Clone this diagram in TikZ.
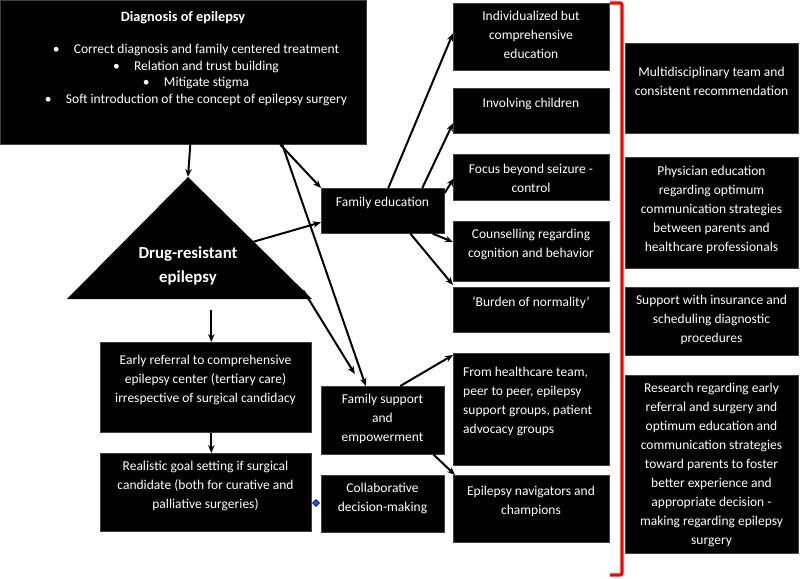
\documentclass[tikz,border=0pt]{standalone}
\usepackage{fontspec}
\setmainfont{Carlito}
\usetikzlibrary{calc,arrows.meta,shapes.geometric}
\tikzset{
  box/.style={fill=black, draw=black!75, line width=0.6pt, inner sep=0pt, anchor=north west},
  txt/.style={text=white, align=center, inner sep=0pt, font=\fontsize{13.5}{19}\selectfont},
  ttl/.style={text=white, align=center, inner sep=0pt, font=\fontsize{14.3}{24}\selectfont\bfseries},
  arr/.style={-{Stealth[length=8pt,width=6.5pt]}, line width=2pt},
  bracket/.style={draw=red, line width=3.2pt, rounded corners=2pt},
}
\newcommand{\mybox}[5]{\node[box, minimum width={(#4-#2)*1pt}, minimum height={(#5-#3)*1pt}] (#1) at (#2,#3) {};}
\begin{document}
\begin{tikzpicture}[x=1pt,y=-1pt]
\useasboundingbox[fill=white] (0,0) rectangle (800,578);
% boxes
\mybox{diag}{0}{0}{366}{144}
\mybox{famedu}{321}{188}{444}{233}
\mybox{ind}{453}{3}{609}{70}
\mybox{inv}{453}{88}{609}{133}
\mybox{foc}{453}{154}{609}{200}
\mybox{cou}{453}{221}{609}{281}
\mybox{bur}{453}{287}{609}{332}
\mybox{fro}{453}{353}{609}{465}
\mybox{nav}{453}{475}{609}{542}
\mybox{famsup}{321}{386}{444}{454}
\mybox{col}{321}{475}{444}{532}
\mybox{early}{100}{342}{311}{432}
\mybox{real}{100}{453}{311}{531}
\mybox{mul}{625}{43}{798}{133}
\mybox{phy}{625}{157}{798}{268}
\mybox{ins}{625}{287}{798}{355}
\mybox{res}{625}{375}{798}{553}
% triangle
\coordinate (apex) at (188,177);
\coordinate (tl) at (67,299);
\coordinate (tr) at (312,299);
\fill[black] (apex) -- (tr) -- (tl) -- cycle;
\node[ttl, font=\fontsize{16.8}{24}\selectfont\bfseries] (tri-t) at (188,266) {Drug-resistant\\epilepsy};
% texts
\node[ttl] (diag-t) at (183,18) {Diagnosis of epilepsy};
\node[txt, font=\fontsize{13.5}{16.5}\selectfont] (diag-b) at (196,75) {%
\makebox[21pt][l]{\textbullet}Correct diagnosis and family centered treatment\\
\makebox[21pt][l]{\textbullet}Relation and trust building\\
\makebox[21pt][l]{\textbullet}Mitigate stigma\\
\makebox[21pt][l]{\textbullet}Soft introduction of the concept of epilepsy surgery};
\node[txt] (ind-t) at (531,35) {Individualized but\\comprehensive\\education};
\node[txt] (inv-t) at (531,104) {Involving children};
\node[txt] (foc-t) at (531,178.5) {Focus beyond seizure -\\control};
\node[txt] (cou-t) at (531,244.5) {Counselling regarding\\cognition and behavior};
\node[txt] (bur-t) at (531,303) {‘Burden of normality’};
\node[txt, align=left, anchor=west] (fro-t) at (463,401.5) {From healthcare team,\\peer to peer, epilepsy\\support groups, patient\\advocacy groups};
\node[txt] (nav-t) at (531,501.5) {Epilepsy navigators and\\champions};
\node[txt] (famedu-t) at (382.5,203) {Family education};
\node[txt] (famsup-t) at (382.5,419) {Family support\\and\\empowerment};
\node[txt] (col-t) at (382.5,498.5) {Collaborative\\decision-making};
\node[txt] (early-t) at (205.5,380) {Early referral to comprehensive\\epilepsy center (tertiary care)\\irrespective of surgical candidacy};
\node[txt] (real-t) at (205.5,486) {Realistic goal setting if surgical\\candidate (both for curative and\\palliative surgeries)};
\node[txt] (mul-t) at (711.5,81.5) {Multidisciplinary team and\\consistent recommendation};
\node[txt] (phy-t) at (711.5,210) {Physician education\\regarding optimum\\communication strategies\\between parents and\\healthcare professionals};
\node[txt] (ins-t) at (711.5,320) {Support with insurance and\\scheduling diagnostic\\procedures};
\node[txt] (res-t) at (711.5,465) {Research regarding early\\referral and surgery and\\optimum education and\\communication strategies\\toward parents to foster\\better experience and\\appropriate decision -\\making regarding epilepsy\\surgery};
% connector coordinates
\coordinate (trA) at ($(apex)!0.53!(tr)$);
\coordinate (trB) at ($(apex)!0.93!(tr)$);
\coordinate (trD) at ($(early.north)+(5.5,-32)$);
% connectors
\draw[arr] ($(diag.south)+(7,0)$) -- (apex);
\draw[arr] (trA) -- ($(famedu.west)+(0,11.5)$);
\draw[arr] ($(diag.south)+(97,0)$) -- (famedu.north west);
\draw[arr] ($(diag.south)+(99,0)$) -- ($(famsup.north)+(-17,0)$);
\draw[arr] (trB) -- ($(famsup.north)+(-28,-12)$);
\draw[arr] (trD) -- ($(early.north)+(5.5,0)$);
\draw[arr] ($(early.south)+(5.5,0)$) -- ($(real.north)+(5.5,0)$);
\draw[arr] ($(famedu.north)+(5.5,0)$) -- ($(ind.west)+(0,-3.5)$);
\draw[arr] ($(famedu.north)+(39.5,0)$) -- ($(inv.west)+(0,12.5)$);
\draw[arr] ($(famedu.north east)+(0,5)$) -- ($(foc.west)+(1,1)$);
\draw[arr] ($(famedu.south east)+(-12,0)$) -- ($(cou.north west)+(0,21)$);
\draw[arr] ($(famedu.south)+(27.5,0)$) -- ($(bur.north west)+(0,-2)$);
\draw[arr] ($(famsup.north)+(17.5,0)$) -- ($(fro.north west)+(0,2)$);
\draw[arr] ($(famsup.south east)+(-11,0)$) -- ($(nav.north west)+(2,0)$);
% small connector diamond
\node[diamond, draw=blue!40!black, fill=blue!60!cyan, minimum size=7pt, inner sep=0pt, line width=0.8pt] (dia) at (316,503) {};
% red bracket
\draw[bracket] (610,3) -- (622,3) -- (622,575) -- (610,575);
\end{tikzpicture}
\end{document}
